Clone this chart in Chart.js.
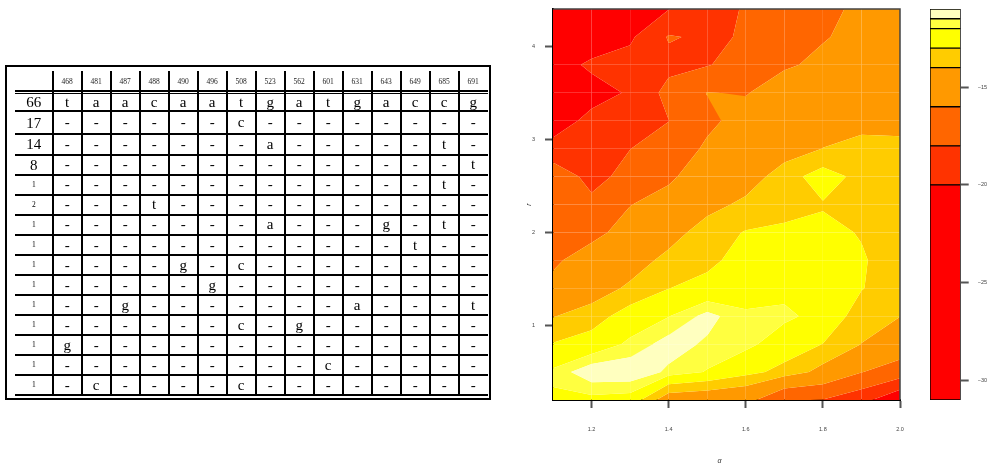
<!DOCTYPE html>
<html>
<head>
<meta charset="utf-8">
<script src="https://cdn.jsdelivr.net/npm/chart.js@4.4.1/dist/chart.umd.min.js"></script>
<style>
  html, body { margin: 0; padding: 0; background: #fff; }
  body { width: 988px; height: 465px; overflow: hidden; position: relative; }
  #table { position: absolute; left: 0; top: 0; width: 500px; height: 465px; will-change: transform; }
  .frame { position: absolute; left: 5px; top: 65px; width: 486px; height: 335px; border: 2px solid #000; box-sizing: border-box; }
  .rule { position: absolute; background: #000; }
  .cell { position: absolute; width: 40px; height: 20px; line-height: 20px; text-align: center;
          font-family: "Liberation Serif", "DejaVu Serif", serif; color: #000; white-space: nowrap; }
  .head { font-size: 7.5px; color: #222; }
  .big { font-size: 15px; }
  .small { font-size: 7.5px; }
  .base { font-size: 15px; }
  #contour { position: absolute; left: 500px; top: 0; }
  #colorbar { position: absolute; left: 925px; top: 0; }
</style>
</head>
<body>
<div id="table"><div class="frame"></div></div>
<canvas id="contour" width="425" height="465"></canvas>
<canvas id="colorbar" width="80" height="465"></canvas>
<script>
// ---- table data ----
const sitePositions = ['468', '481', '487', '488', '490', '496', '508', '523', '562', '601', '631', '643', '649', '685', '691'];
const haplotypeCounts = [66, 17, 14, 8, 1, 2, 1, 1, 1, 1, 1, 1, 1, 1, 1];
const haplotypes = [
  'taacaatgatgaccg',
  '------c--------',
  '-------a-----t-',
  '--------------t',
  '-------------t-',
  '---t-----------',
  '-------a---g-t-',
  '------------t--',
  '----g-c--------',
  '-----g---------',
  '--g-------a---t',
  '------c-g------',
  'g--------------',
  '---------c-----',
  '-c----c--------'
];

// ---- contour data: log-likelihood over (alpha, r) ----
const alphaGrid = [1.1, 1.2, 1.3, 1.4, 1.5, 1.6, 1.7, 1.8, 1.9, 2.0];
const rGrid = [0.2, 0.5, 0.8, 1.1, 1.4, 1.7, 2.0, 2.3, 2.6, 2.9, 3.2, 3.5, 3.8, 4.1, 4.4];
// one row per r value, one column per alpha value
const logLik = [
  [-12.13, -12.2, -12.3, -14.8, -15.0, -15.3, -17.9, -18.05, -19.3, -21.8],
  [-11.85, -11.1, -11.1, -11.6, -12.05, -12.7, -13.3, -14.4, -15.95, -16.9],
  [-12.95, -12.5, -11.85, -11.25, -11.59, -11.8, -12.45, -13.02, -14.02, -14.9],
  [-14.05, -13.5, -12.47, -12.02, -11.3, -11.9, -11.85, -12.25, -13.5, -13.98],
  [-15.5, -14.6, -13.8, -13.02, -12.6, -12.3, -12.2, -12.4, -12.95, -13.6],
  [-16.3, -15.15, -14.57, -13.67, -13.3, -12.5, -12.5, -12.4, -12.9, -13.5],
  [-16.6, -16.5, -15.3, -14.5, -13.45, -12.94, -12.84, -12.75, -13.06, -13.5],
  [-16.8, -17.64, -16.05, -15.3, -14.4, -13.74, -13.3, -13.08, -13.2, -13.5],
  [-17.0, -18.5, -17.5, -16.3, -15.0, -14.6, -13.46, -12.5, -13.33, -13.6],
  [-19.0, -18.8, -18.02, -17.2, -15.7, -15.0, -14.54, -13.98, -13.6, -13.84],
  [-21.5, -19.17, -19.0, -18.03, -16.4, -15.3, -14.9, -14.6, -14.4, -14.2],
  [-22.5, -21.1, -19.7, -17.4, -15.95, -16.1, -15.15, -15.2, -14.9, -14.4],
  [-21.3, -19.5, -19.3, -18.5, -18.1, -17.3, -16.2, -15.68, -15.3, -14.6],
  [-22.5, -21.8, -20.3, -17.85, -18.3, -17.85, -16.8, -16.1, -15.6, -14.8],
  [-23.0, -23.0, -21.5, -20.05, -19.0, -17.8, -17.0, -16.5, -15.6, -15.0]
];
const levels = [-31, -20, -18, -16, -14, -13, -12, -11.5, -11];
const alphaTicks = [1.2, 1.4, 1.6, 1.8, 2.0];
const rTicks = [1, 2, 3, 4];
const colorbarTicks = [-30, -25, -20, -15];

const bandColors = ['#FF0000', '#FF3300', '#FF6600', '#FF9900', '#FFCC00', '#FFFF00', '#FFFF40', '#FFFFBF'];
const sansFont = '"Liberation Sans", "DejaVu Sans", sans-serif';

// ---- table ----
function buildTable() {
  const root = document.getElementById('table');
  const left = 15, labelRight = 52.7, colW = 29.0;
  const right = labelRight + colW * sitePositions.length;
  const rowLines = [111, 134, 154.5, 174.5, 194.5, 214.5, 235, 255, 275, 295, 315, 335, 355, 375, 395];

  const rule = (x, y, w, h) => {
    const d = document.createElement('div');
    d.className = 'rule';
    d.style.left = x + 'px'; d.style.top = y + 'px';
    d.style.width = w + 'px'; d.style.height = h + 'px';
    root.appendChild(d);
  };
  const text = (t, cx, cy, cls) => {
    const d = document.createElement('div');
    d.className = 'cell ' + cls;
    d.textContent = t;
    d.style.left = (cx - 20) + 'px';
    d.style.top = (cy - 10) + 'px';
    root.appendChild(d);
  };

  // vertical separators
  for (let k = 0; k < sitePositions.length; k++) {
    rule(labelRight + k * colW - 1, 71, 2, 325);
  }
  // double rule under header
  rule(left, 90.4, right - left, 1.3);
  rule(left, 93.1, right - left, 1.3);
  // row rules
  rowLines.forEach(y => rule(left, y - 1, right - left, 2));

  const colCenter = k => labelRight + colW * (k + 0.5);
  sitePositions.forEach((p, k) => text(p, colCenter(k), 82, 'head'));

  haplotypes.forEach((h, row) => {
    const top = row === 0 ? 94.4 : rowLines[row - 1] + 1;
    const bottom = rowLines[row] - 1;
    const cy = (top + bottom) / 2;
    const n = haplotypeCounts[row];
    text(String(n), (left + labelRight) / 2, cy, n > 2 ? 'big' : 'small');
    h.split('').forEach((ch, k) => text(ch, colCenter(k), cy - 0.5, 'base'));
  });
}
buildTable();

// ---- filled contour polygons (per grid cell, clipped to each band) ----
function clipPoly(poly, level, keepAbove) {
  const out = [];
  for (let k = 0; k < poly.length; k++) {
    const a = poly[k], b = poly[(k + 1) % poly.length];
    const ina = keepAbove ? a.z >= level : a.z <= level;
    const inb = keepAbove ? b.z >= level : b.z <= level;
    if (ina) out.push(a);
    if (ina !== inb) {
      const t = (level - a.z) / (b.z - a.z);
      out.push({ x: a.x + t * (b.x - a.x), y: a.y + t * (b.y - a.y), z: level });
    }
  }
  return out;
}

const contourSets = [];
for (let j = 0; j < rGrid.length - 1; j++) {
  for (let i = 0; i < alphaGrid.length - 1; i++) {
    const corners = [
      { x: alphaGrid[i], y: rGrid[j], z: logLik[j][i] },
      { x: alphaGrid[i + 1], y: rGrid[j], z: logLik[j][i + 1] },
      { x: alphaGrid[i + 1], y: rGrid[j + 1], z: logLik[j + 1][i + 1] },
      { x: alphaGrid[i], y: rGrid[j + 1], z: logLik[j + 1][i] }
    ];
    for (let b = 0; b < bandColors.length; b++) {
      const poly = clipPoly(clipPoly(corners, levels[b], true), levels[b + 1], false);
      if (poly.length < 3) continue;
      contourSets.push({
        data: poly.map(p => ({ x: p.x, y: p.y })),
        showLine: true,
        fill: 'shape',
        backgroundColor: bandColors[b],
        borderColor: 'rgba(0,0,0,0)',
        borderWidth: 0,
        pointRadius: 0,
        tension: 0
      });
    }
  }
}
// the filler paints the last dataset first: reverse so higher bands end up on top
contourSets.reverse();

const plotFrame = {
  id: 'plotFrame',
  afterDraw(chart) {
    const { ctx, chartArea: a } = chart;
    ctx.save();
    ctx.strokeStyle = '#444';
    ctx.lineWidth = 1.5;
    ctx.beginPath();
    ctx.moveTo(a.left, a.top);
    ctx.lineTo(a.right, a.top);
    ctx.lineTo(a.right, a.bottom);
    ctx.stroke();
    ctx.restore();
  }
};

// scales here get fixed sizes and no extra edge padding
const fixBox = (w, h) => s => {
  if (w !== null) s.width = w;
  if (h !== null) s.height = h;
  s.paddingTop = 0; s.paddingBottom = 0; s.paddingLeft = 0; s.paddingRight = 0;
};

new Chart(document.getElementById('contour'), {
  type: 'scatter',
  data: { datasets: contourSets },
  options: {
    responsive: false,
    animation: false,
    events: [],
    layout: { padding: { top: 9, right: 25, left: 0, bottom: 0 } },
    plugins: { legend: { display: false }, tooltip: { enabled: false } },
    scales: {
      x: {
        type: 'linear', min: 1.1, max: 2.0,
        afterFit: fixBox(null, 65),
        afterBuildTicks: s => { s.ticks = alphaTicks.map(v => ({ value: v })); },
        ticks: { font: { size: 5.5, family: sansFont }, color: '#444', padding: 18, maxRotation: 0,
                 callback: v => v.toFixed(1) },
        grid: { drawOnChartArea: false, tickLength: 8, tickWidth: 2, tickColor: '#555' },
        border: { color: '#000', width: 2 },
        title: { display: true, text: 'α\u2003\u2003', color: '#333', padding: 0,
                 font: { size: 7, family: sansFont, style: 'italic' } }
      },
      y: {
        type: 'linear', min: 0.2, max: 4.4,
        afterFit: fixBox(53, null),
        afterBuildTicks: s => { s.ticks = rTicks.map(v => ({ value: v })); },
        ticks: { font: { size: 5.5, family: sansFont }, color: '#444', padding: 10,
                 callback: v => String(v) },
        grid: { drawOnChartArea: false, tickLength: 8, tickWidth: 2, tickColor: '#555' },
        border: { color: '#000', width: 2 },
        title: { display: true, text: 'r', color: '#333', padding: { top: 24.5, bottom: 0 },
                 font: { size: 7, family: sansFont, style: 'italic' } }
      }
    }
  },
  plugins: [plotFrame]
});

// ---- colour key ----
new Chart(document.getElementById('colorbar'), {
  type: 'bar',
  data: {
    labels: [''],
    datasets: bandColors.map((c, k) => ({
      data: [[levels[k], levels[k + 1]]],
      backgroundColor: c,
      borderColor: '#000',
      borderWidth: 1,
      borderSkipped: false,
      barPercentage: 1,
      categoryPercentage: 1,
      grouped: false
    }))
  },
  options: {
    responsive: false,
    animation: false,
    events: [],
    layout: { padding: { left: 5, top: 9, bottom: 65, right: 0 } },
    plugins: { legend: { display: false }, tooltip: { enabled: false } },
    scales: {
      x: { display: false },
      y: {
        position: 'right', min: -31, max: -11,
        afterFit: fixBox(44.3, null),
        afterBuildTicks: s => { s.ticks = colorbarTicks.map(v => ({ value: v })); },
        ticks: { font: { size: 5.5, family: sansFont }, color: '#444', padding: 9,
                 callback: v => '\u2212' + Math.abs(v) },
        grid: { drawOnChartArea: false, tickLength: 8, tickWidth: 2, tickColor: '#555' },
        border: { display: false }
      }
    }
  }
});
</script>
</body>
</html>
